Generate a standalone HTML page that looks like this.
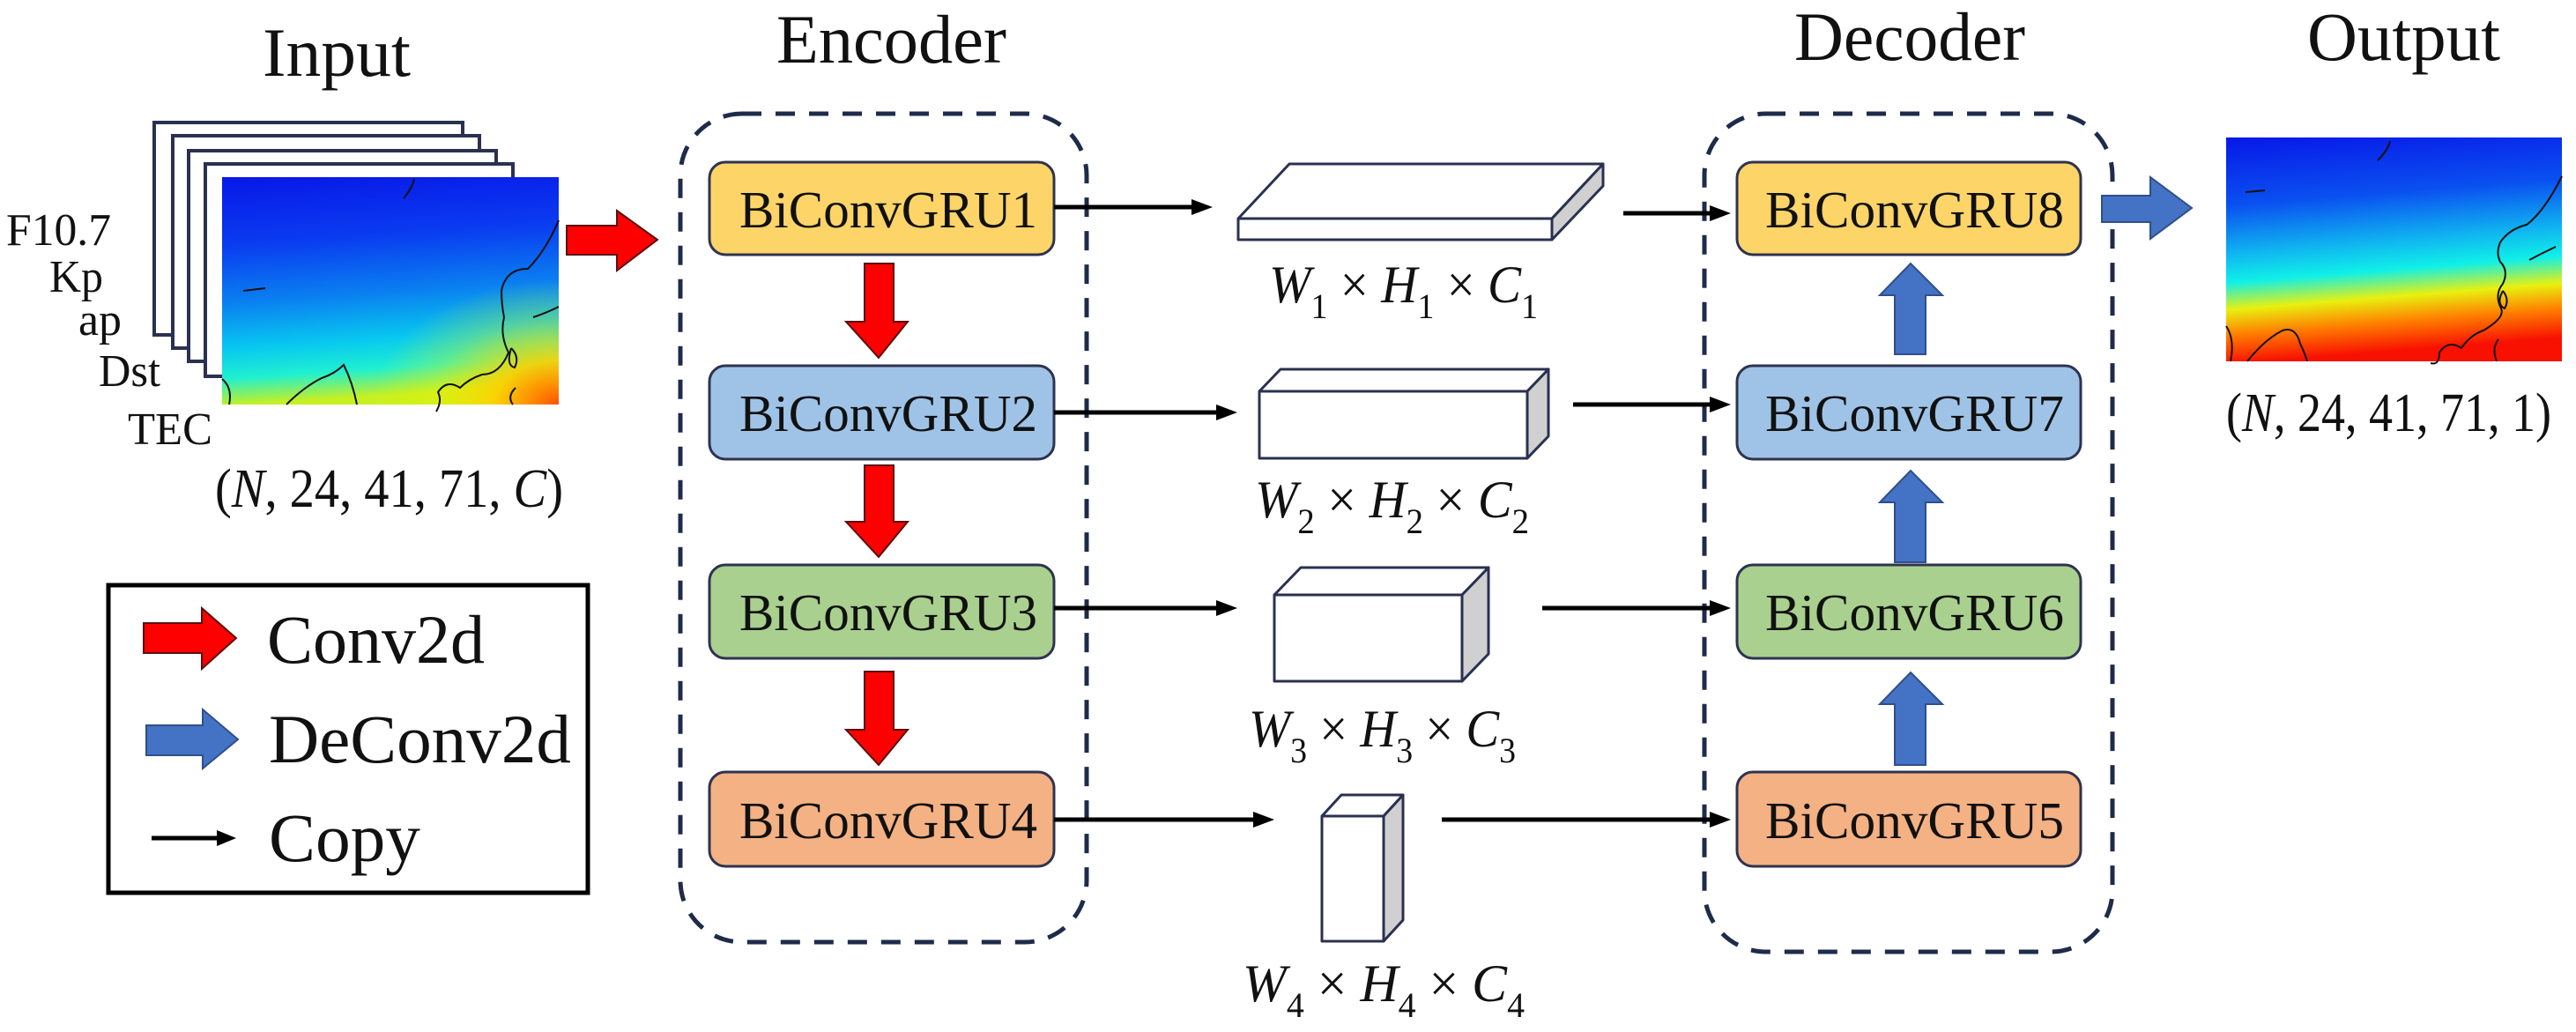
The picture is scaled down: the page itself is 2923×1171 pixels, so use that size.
<!DOCTYPE html>
<html><head><meta charset="utf-8"><style>
html,body{margin:0;padding:0;background:#fff;}
svg{display:block;}
svg text{font-family:"Liberation Serif","Times New Roman",serif;fill:#111;}
</style></head><body>
<svg width="2923" height="1171" viewBox="0 0 2923 1171" xmlns="http://www.w3.org/2000/svg" font-family="Liberation Serif, Times New Roman, serif">
<defs>
<linearGradient id="gin" x1="0" y1="0" x2="0.1" y2="1">
<stop offset="0" stop-color="#0818e8"/><stop offset="0.3" stop-color="#0a3cf0"/><stop offset="0.55" stop-color="#0a80f0"/><stop offset="0.75" stop-color="#08c8f0"/><stop offset="0.88" stop-color="#20f0d0"/><stop offset="1" stop-color="#c8f020"/>
</linearGradient>
<radialGradient id="gin2" cx="1" cy="1" r="0.55">
<stop offset="0" stop-color="#ff5000" stop-opacity="1"/><stop offset="0.35" stop-color="#ffd000" stop-opacity="0.9"/><stop offset="0.7" stop-color="#f0f000" stop-opacity="0.3"/><stop offset="1" stop-color="#f0f000" stop-opacity="0"/>
</radialGradient>
<linearGradient id="gout" x1="0" y1="0" x2="0.12" y2="1">
<stop offset="0" stop-color="#0818e8"/><stop offset="0.3" stop-color="#0a50f0"/><stop offset="0.52" stop-color="#10b8f0"/><stop offset="0.64" stop-color="#10f0e8"/><stop offset="0.76" stop-color="#e8f010"/><stop offset="0.87" stop-color="#ff8000"/><stop offset="1" stop-color="#f81000"/>
</linearGradient>
</defs>

<!-- Titles -->
<text x="298" y="86" font-size="78" textLength="168" lengthAdjust="spacingAndGlyphs">Input</text>
<text x="881" y="71" font-size="78" textLength="261" lengthAdjust="spacingAndGlyphs">Encoder</text>
<text x="2036" y="68" font-size="78" textLength="262" lengthAdjust="spacingAndGlyphs">Decoder</text>
<text x="2618" y="68" font-size="78" textLength="219" lengthAdjust="spacingAndGlyphs">Output</text>

<!-- Input stack -->
<g fill="#fff" stroke="#2a3150" stroke-width="4">
<rect x="175" y="139" width="350" height="241"/>
<rect x="196" y="154" width="348" height="241"/>
<rect x="214" y="171" width="349" height="239"/>
<rect x="233" y="186" width="349" height="241"/>
</g>
<rect x="252" y="201" width="382" height="258" fill="url(#gin)"/>
<rect x="252" y="201" width="382" height="258" fill="url(#gin2)"/>
<g fill="none" stroke="#111" stroke-width="2">
<path d="M470 203 q-2 10 -12 22"/>
<path d="M276 330 l25 -3"/>
<path d="M634 250 q-15 35 -35 55 q-25 0 -30 25 q0 15 3 30 q-5 20 5 40 q-10 25 -30 25 q-15 5 -25 15 q-15 -10 -25 5 q5 10 -2 22"/>
<path d="M252 430 q12 10 8 29 M325 459 q20 -20 40 -30 q15 -5 25 -15 q10 20 15 45"/>
<path d="M580 395 q-6 20 4 22 q6 -12 -4 -22 M585 440 q-10 10 -3 19"/>
<path d="M605 360 q15 -5 29 -12"/>
</g>
<text x="7" y="278" font-size="52" textLength="119" lengthAdjust="spacingAndGlyphs">F10.7</text>
<text x="56" y="331" font-size="52" textLength="61" lengthAdjust="spacingAndGlyphs">Kp</text>
<text x="89" y="380" font-size="52" textLength="49" lengthAdjust="spacingAndGlyphs">ap</text>
<text x="112" y="438" font-size="52" textLength="70" lengthAdjust="spacingAndGlyphs">Dst</text>
<text x="145" y="504" font-size="52" textLength="96" lengthAdjust="spacingAndGlyphs">TEC</text>
<text x="244" y="575" font-size="62" textLength="395" lengthAdjust="spacingAndGlyphs">(<tspan font-style="italic">N</tspan>, 24, 41, 71, <tspan font-style="italic">C</tspan>)</text>

<!-- Input red arrow -->
<polygon points="643,256 700,256 700,239 746,272 700,307 700,289 643,289" fill="#ff0000" stroke="#5a1010" stroke-width="2"/>

<!-- Legend -->
<rect x="123" y="664" width="544" height="349" fill="#fff" stroke="#000" stroke-width="5"/>
<polygon points="163,707 229,707 229,690 268,724 229,759 229,741 163,741" fill="#ff0000" stroke="#5a1010" stroke-width="2"/>
<text x="303" y="752" font-size="78" textLength="247" lengthAdjust="spacingAndGlyphs">Conv2d</text>
<polygon points="166,823 230,823 230,805 270,839 230,872 230,857 166,857" fill="#4472c4" stroke="#2f4f8a" stroke-width="2"/>
<text x="305" y="865" font-size="78" textLength="343" lengthAdjust="spacingAndGlyphs">DeConv2d</text>
<line x1="172" y1="951" x2="250" y2="951" stroke="#000" stroke-width="5"/>
<polygon points="246,942 268,951 246,960" fill="#000"/>
<text x="305" y="977" font-size="78" textLength="172" lengthAdjust="spacingAndGlyphs">Copy</text>

<!-- Dashed containers -->
<rect x="772" y="129" width="461" height="940" rx="70" ry="70" fill="none" stroke="#1e2b4a" stroke-width="5" stroke-dasharray="22,16"/>
<rect x="1934" y="129" width="463" height="951" rx="70" ry="70" fill="none" stroke="#1e2b4a" stroke-width="5" stroke-dasharray="22,16"/>

<!-- Boxes -->
<g stroke="#2e3350" stroke-width="3">
<rect x="805" y="184" width="391" height="105" rx="18" fill="#fdd468"/>
<rect x="805" y="415" width="391" height="106" rx="18" fill="#9fc3e6"/>
<rect x="805" y="641" width="391" height="106" rx="18" fill="#a9d08e"/>
<rect x="805" y="876" width="391" height="107" rx="18" fill="#f4b183"/>
<rect x="1971" y="184" width="390" height="105" rx="18" fill="#fdd468"/>
<rect x="1971" y="415" width="390" height="106" rx="18" fill="#9fc3e6"/>
<rect x="1971" y="641" width="390" height="106" rx="18" fill="#a9d08e"/>
<rect x="1971" y="876" width="390" height="107" rx="18" fill="#f4b183"/>
</g>
<g font-size="59">
<text x="839" y="258" textLength="338" lengthAdjust="spacingAndGlyphs">BiConvGRU1</text>
<text x="839" y="489" textLength="338" lengthAdjust="spacingAndGlyphs">BiConvGRU2</text>
<text x="839" y="715" textLength="338" lengthAdjust="spacingAndGlyphs">BiConvGRU3</text>
<text x="839" y="951" textLength="338" lengthAdjust="spacingAndGlyphs">BiConvGRU4</text>
<text x="2003" y="258" textLength="339" lengthAdjust="spacingAndGlyphs">BiConvGRU8</text>
<text x="2003" y="489" textLength="339" lengthAdjust="spacingAndGlyphs">BiConvGRU7</text>
<text x="2003" y="715" textLength="339" lengthAdjust="spacingAndGlyphs">BiConvGRU6</text>
<text x="2003" y="951" textLength="339" lengthAdjust="spacingAndGlyphs">BiConvGRU5</text>
</g>

<!-- Red down arrows -->
<g fill="#ff0000" stroke="#5a1010" stroke-width="2">
<polygon points="981,299 1014,299 1014,365 1030,365 997,406 960,365 981,365"/>
<polygon points="981,528 1014,528 1014,592 1030,592 997,632 960,592 981,592"/>
<polygon points="981,762 1014,762 1014,828 1030,828 997,868 960,828 981,828"/>
</g>

<!-- Blue arrows -->
<g fill="#4472c4" stroke="#2f4f8a" stroke-width="2">
<polygon points="2150,402 2185,402 2185,335 2204,335 2168,299 2133,335 2150,335"/>
<polygon points="2150,638 2185,638 2185,570 2204,570 2168,534 2133,570 2150,570"/>
<polygon points="2150,868 2185,868 2185,799 2204,799 2168,763 2133,799 2150,799"/>
<polygon points="2385,222 2440,222 2440,201 2487,236 2440,271 2440,252 2385,252"/>
</g>

<!-- Copy arrows -->
<g stroke="#000" stroke-width="5">
<line x1="1196" y1="235" x2="1356" y2="235"/>
<line x1="1196" y1="468" x2="1384" y2="468"/>
<line x1="1196" y1="690" x2="1384" y2="690"/>
<line x1="1196" y1="930" x2="1426" y2="930"/>
<line x1="1842" y1="242" x2="1944" y2="242"/>
<line x1="1785" y1="459" x2="1944" y2="459"/>
<line x1="1750" y1="690" x2="1944" y2="690"/>
<line x1="1636" y1="930" x2="1944" y2="930"/>
</g>
<g fill="#000">
<polygon points="1352,226 1376,235 1352,244"/>
<polygon points="1380,459 1404,468 1380,477"/>
<polygon points="1380,681 1404,690 1380,699"/>
<polygon points="1422,921 1446,930 1422,939"/>
<polygon points="1940,233 1964,242 1940,251"/>
<polygon points="1940,450 1964,459 1940,468"/>
<polygon points="1940,681 1964,690 1940,699"/>
<polygon points="1940,921 1964,930 1940,939"/>
</g>

<!-- Tensor cuboids -->
<g stroke="#2a3150" stroke-width="3" stroke-linejoin="round">
<polygon points="1405,248 1463,186 1819,186 1761,248" fill="#fff"/>
<rect x="1405" y="248" width="356" height="24" fill="#fff"/>
<polygon points="1761,248 1819,186 1819,211 1761,272" fill="#d0d0d0"/>

<polygon points="1429,444 1453,419 1757,419 1733,444" fill="#fff"/>
<rect x="1429" y="444" width="304" height="76" fill="#fff"/>
<polygon points="1733,444 1757,419 1757,495 1733,520" fill="#d0d0d0"/>

<polygon points="1446,675 1476,644 1689,644 1659,675" fill="#fff"/>
<rect x="1446" y="675" width="213" height="98" fill="#fff"/>
<polygon points="1659,675 1689,644 1689,742 1659,773" fill="#d0d0d0"/>

<polygon points="1500,926 1522,902 1592,902 1570,926" fill="#fff"/>
<rect x="1500" y="926" width="70" height="142" fill="#fff"/>
<polygon points="1570,926 1592,902 1592,1044 1570,1068" fill="#d0d0d0"/>
</g>

<!-- Dimension labels -->
<g font-size="60">
<text x="1440" y="343" textLength="305" lengthAdjust="spacingAndGlyphs"><tspan font-style="italic">W</tspan><tspan font-size="40" dy="18">1</tspan><tspan dy="-18"> × </tspan><tspan font-style="italic">H</tspan><tspan font-size="40" dy="18">1</tspan><tspan dy="-18"> × </tspan><tspan font-style="italic">C</tspan><tspan font-size="40" dy="18">1</tspan></text>
<text x="1424" y="587" textLength="311" lengthAdjust="spacingAndGlyphs"><tspan font-style="italic">W</tspan><tspan font-size="40" dy="18">2</tspan><tspan dy="-18"> × </tspan><tspan font-style="italic">H</tspan><tspan font-size="40" dy="18">2</tspan><tspan dy="-18"> × </tspan><tspan font-style="italic">C</tspan><tspan font-size="40" dy="18">2</tspan></text>
<text x="1417" y="847" textLength="303" lengthAdjust="spacingAndGlyphs"><tspan font-style="italic">W</tspan><tspan font-size="40" dy="18">3</tspan><tspan dy="-18"> × </tspan><tspan font-style="italic">H</tspan><tspan font-size="40" dy="18">3</tspan><tspan dy="-18"> × </tspan><tspan font-style="italic">C</tspan><tspan font-size="40" dy="18">3</tspan></text>
<text x="1410" y="1136" textLength="320" lengthAdjust="spacingAndGlyphs"><tspan font-style="italic">W</tspan><tspan font-size="40" dy="18">4</tspan><tspan dy="-18"> × </tspan><tspan font-style="italic">H</tspan><tspan font-size="40" dy="18">4</tspan><tspan dy="-18"> × </tspan><tspan font-style="italic">C</tspan><tspan font-size="40" dy="18">4</tspan></text>
</g>

<!-- Output map -->
<rect x="2526" y="156" width="381" height="254" fill="url(#gout)"/>
<g fill="none" stroke="#111" stroke-width="2">
<path d="M2712 160 q-2 10 -14 22"/>
<path d="M2548 218 l22 -2"/>
<path d="M2907 200 q-20 40 -40 55 q-20 5 -30 20 q-5 12 0 22 q10 10 3 25 q-10 12 -2 28 q5 10 -20 25 q-15 5 -25 20 q-15 -10 -25 5 q0 15 -10 12"/>
<path d="M2526 370 q10 15 5 40 M2550 410 q20 -25 40 -35 q15 -5 20 15 q5 10 8 20"/>
<path d="M2840 330 q-8 15 2 20 q6 -10 -2 -20 M2835 385 q-8 10 -2 25"/>
<path d="M2870 295 q15 -8 30 -15"/>
</g>
<text x="2526" y="489" font-size="62" textLength="369" lengthAdjust="spacingAndGlyphs">(<tspan font-style="italic">N</tspan>, 24, 41, 71, 1)</text>
</svg>
</body></html>
